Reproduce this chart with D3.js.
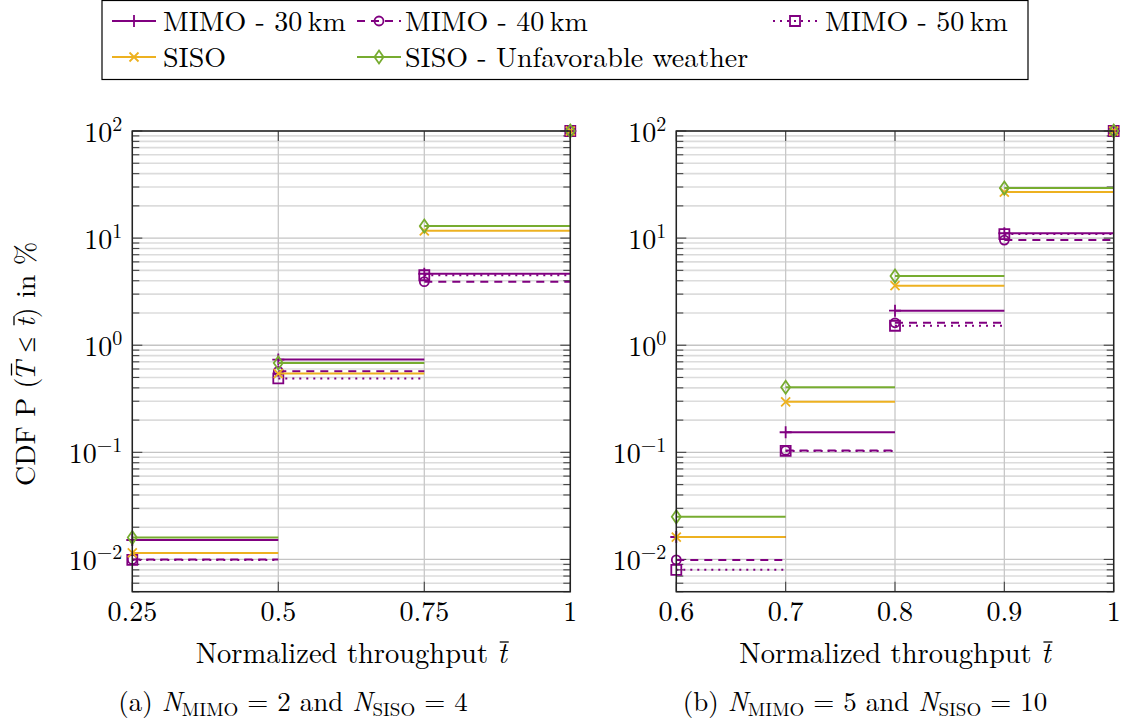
<!DOCTYPE html>
<html>
<head>
<meta charset="utf-8">
<script src="https://cdn.jsdelivr.net/npm/d3@7"></script>
<style>
  html, body { margin: 0; padding: 0; background: #fff; }
  svg { display: block; }
</style>
</head>
<body>
<svg id="fig" width="1123" height="723"></svg>
<script>
// ---- Data -----------------------------------------------------------------
const seriesNames = ["MIMO - 30\u2009km", "MIMO - 40\u2009km", "MIMO - 50\u2009km", "SISO", "SISO - Unfavorable weather"];

// Panel (a): N_MIMO = 2, N_SISO = 4
const xA = [0.25, 0.5, 0.75, 1];
const mimo30A = [0.0152, 0.735, 4.65, 100];
const mimo40A = [0.0100, 0.571, 3.92, 100];
const mimo50A = [0.0099, 0.490, 4.50, 100];
const sisoA = [0.0115, 0.544, 11.7, 100];
const sisoBadA = [0.0160, 0.684, 12.95, 100];

// Panel (b): N_MIMO = 5, N_SISO = 10
const xB = [0.6, 0.7, 0.8, 0.9, 1];
const mimo30B = [0.0162, 0.154, 2.10, 11.1, 100];
const mimo40B = [0.0099, 0.104, 1.62, 9.58, 100];
const mimo50B = [0.0080, 0.103, 1.52, 10.9, 100];
const sisoB = [0.0162, 0.296, 3.60, 26.9, 100];
const sisoBadB = [0.0250, 0.405, 4.42, 29.3, 100];

const xTicksA = [0.25, 0.5, 0.75, 1];
const xTickLabelsA = ["0.25", "0.5", "0.75", "1"];
const xTicksB = [0.6, 0.7, 0.8, 0.9, 1];
const xTickLabelsB = ["0.6", "0.7", "0.8", "0.9", "1"];
const yDecades = [-2, -1, 0, 1, 2];
const yDomain = [0.005, 100];

// ---- Styles ---------------------------------------------------------------
const FONT = "'Latin Modern Roman', 'CMU Serif', 'Liberation Serif', serif";
const PURPLE = "#800080", YELLOW = "#EDB120", GREEN = "#77AC30";
const styles = [
  { color: PURPLE, dash: null,  marker: "plus" },
  { color: PURPLE, dash: "8,6", marker: "circle" },
  { color: PURPLE, dash: "2,5", marker: "square" },
  { color: YELLOW, dash: null,  marker: "cross" },
  { color: GREEN,  dash: null,  marker: "diamond" }
];

function markerPath(type) {
  switch (type) {
    case "plus": return "M-6,0H6M0,-6V6";
    case "cross": return "M-4.5,-4.5L4.5,4.5M-4.5,4.5L4.5,-4.5";
    case "circle": return "M4.5,0A4.5,4.5 0 1,1 -4.5,0A4.5,4.5 0 1,1 4.5,0Z";
    case "square": return "M-5,-5H5V5H-5Z";
    case "diamond": return "M0,-6.5L4.5,0L0,6.5L-4.5,0Z";
  }
}

function addText(parent, size) {
  return parent.append("text").style("font-family", FONT).attr("font-size", size).attr("fill", "#000");
}

// bar accent over an (italic) character of a text element
function addBar(parent, textSel, index, rise, halfWidth) {
  const node = textSel.node();
  const ext = node.getExtentOfChar(index);
  const base = node.getStartPositionOfChar(index).y;
  const cx = ext.x + ext.width / 2 + 2;
  parent.append("line")
    .attr("x1", cx - halfWidth).attr("x2", cx + halfWidth)
    .attr("y1", base - rise).attr("y2", base - rise)
    .attr("stroke", "#000").attr("stroke-width", 1.3);
}

const svg = d3.select("#fig");
svg.append("rect").attr("width", 1123).attr("height", 723).attr("fill", "#fff");

// ---- Panel drawing ----------------------------------------------------------
function drawPanel(opt) {
  const x = d3.scaleLinear().domain([opt.xs[0], opt.xs[opt.xs.length - 1]]).range([opt.left, opt.right]);
  const y = d3.scaleLog().domain(yDomain).range([591.7, 131]);
  const g = svg.append("g");
  const [x0, x1] = x.range();
  const [yb, yt] = y.range();

  // horizontal grid (minor then major)
  const minorVals = [], majorVals = [];
  for (let d = -3; d <= 2; d++) {
    for (let k = 1; k <= 9; k++) {
      const v = k * Math.pow(10, d);
      if (v < yDomain[0] - 1e-12 || v > yDomain[1] + 1e-9) continue;
      (k === 1 ? majorVals : minorVals).push(v);
    }
  }
  g.selectAll(".ygm").data(minorVals).join("line")
    .attr("x1", x0).attr("x2", x1).attr("y1", d => y(d)).attr("y2", d => y(d))
    .attr("stroke", "#dcdcdc").attr("stroke-width", 1.6);
  g.selectAll(".ygM").data(majorVals).join("line")
    .attr("x1", x0).attr("x2", x1).attr("y1", d => y(d)).attr("y2", d => y(d))
    .attr("stroke", "#c4c4c4").attr("stroke-width", 1.3);
  // vertical grid
  g.selectAll(".xg").data(opt.ticks).join("line")
    .attr("x1", d => x(d)).attr("x2", d => x(d)).attr("y1", yb).attr("y2", yt)
    .attr("stroke", "#c8c8c8").attr("stroke-width", 1.3);

  // ticks (inward, on all four sides)
  const tk = g.append("g").attr("stroke", "#444").attr("stroke-width", 1.1);
  minorVals.forEach(v => {
    tk.append("line").attr("x1", x0).attr("x2", x0 + 7).attr("y1", y(v)).attr("y2", y(v));
    tk.append("line").attr("x1", x1).attr("x2", x1 - 7).attr("y1", y(v)).attr("y2", y(v));
  });
  majorVals.forEach(v => {
    tk.append("line").attr("x1", x0).attr("x2", x0 + 10).attr("y1", y(v)).attr("y2", y(v));
    tk.append("line").attr("x1", x1).attr("x2", x1 - 10).attr("y1", y(v)).attr("y2", y(v));
  });
  opt.ticks.forEach(v => {
    tk.append("line").attr("x1", x(v)).attr("x2", x(v)).attr("y1", yb).attr("y2", yb - 10);
    tk.append("line").attr("x1", x(v)).attr("x2", x(v)).attr("y1", yt).attr("y2", yt + 10);
  });

  // series: horizontal steps with markers at the jump points
  opt.series.forEach((vals, si) => {
    const st = styles[si];
    const sg = g.append("g");
    const segs = vals.slice(0, -1).map((v, i) => ({ xa: opt.xs[i], xb: opt.xs[i + 1], v }));
    sg.selectAll("line").data(segs).join("line")
      .attr("x1", d => x(d.xa)).attr("x2", d => x(d.xb))
      .attr("y1", d => y(d.v)).attr("y2", d => y(d.v))
      .attr("stroke", st.color).attr("stroke-width", 2)
      .attr("stroke-dasharray", st.dash);
    sg.selectAll("path").data(vals).join("path")
      .attr("d", markerPath(st.marker))
      .attr("transform", (d, i) => `translate(${x(opt.xs[i])},${y(d)})`)
      .attr("fill", "none").attr("stroke", st.color).attr("stroke-width", 1.8);
  });

  // frame
  g.append("rect").attr("x", x0).attr("y", yt).attr("width", x1 - x0).attr("height", yb - yt)
    .attr("fill", "none").attr("stroke", "#222").attr("stroke-width", 1.5);

  // x tick labels
  opt.ticks.forEach((v, i) => {
    addText(g, 28).attr("x", x(v)).attr("y", 621).attr("text-anchor", "middle").text(opt.tickLabels[i]);
  });

  // y tick labels 10^k
  yDecades.forEach(k => {
    const t = addText(g, 28).attr("x", opt.left - 10).attr("y", y(Math.pow(10, k)) + 11)
      .attr("text-anchor", "end");
    t.append("tspan").text("10");
    t.append("tspan").attr("dy", -11).attr("font-size", 20).text(k < 0 ? "\u2212" + (-k) : String(k));
  });

  // x axis label
  const xl = addText(g, 28.5).attr("x", (x0 + x1) / 2).attr("y", 663).attr("text-anchor", "middle");
  xl.append("tspan").text("Normalized throughput ");
  xl.append("tspan").attr("font-style", "italic").text("t");
  addBar(g, xl, 22, 21, 4.5);

  // caption
  const cp = addText(g, 27).attr("x", opt.capX).attr("y", 711).attr("text-anchor", "middle");
  cp.append("tspan").text(opt.capTag + " ");
  cp.append("tspan").attr("font-style", "italic").text("N");
  cp.append("tspan").attr("dy", 5).attr("font-size", 19).text("MIMO");
  cp.append("tspan").attr("dy", -5).text(" = " + opt.nMimo + " and ");
  cp.append("tspan").attr("font-style", "italic").text("N");
  cp.append("tspan").attr("dy", 5).attr("font-size", 19).text("SISO");
  cp.append("tspan").attr("dy", -5).text(" = " + opt.nSiso);
}

drawPanel({
  xs: xA, left: 132.3, right: 570.3, ticks: xTicksA, tickLabels: xTickLabelsA,
  series: [mimo30A, mimo40A, mimo50A, sisoA, sisoBadA],
  capX: 293, capTag: "(a)", nMimo: 2, nSiso: 4
});
drawPanel({
  xs: xB, left: 676.3, right: 1113.7, ticks: xTicksB, tickLabels: xTickLabelsB,
  series: [mimo30B, mimo40B, mimo50B, sisoB, sisoBadB],
  capX: 865, capTag: "(b)", nMimo: 5, nSiso: 10
});

// y axis label (left panel)
const ylg = svg.append("g").attr("transform", "translate(35,364) rotate(-90)");
const yl = addText(ylg, 28).attr("x", 0).attr("y", 0).attr("text-anchor", "middle");
yl.append("tspan").text("CDF P (");
yl.append("tspan").attr("dx", -4).attr("font-style", "italic").text("T");
yl.append("tspan").text(" \u2264 ");
yl.append("tspan").attr("font-style", "italic").text("t");
yl.append("tspan").text(") in %");
addBar(ylg, yl, 7, 23.5, 6);
addBar(ylg, yl, 11, 21, 4.5);

// ---- Legend -----------------------------------------------------------------
const lg = svg.append("g");
lg.append("rect").attr("x", 102).attr("y", 0.5).attr("width", 926).attr("height", 79)
  .attr("fill", "#fff").attr("stroke", "#000").attr("stroke-width", 1.2);
const legendPos = [
  { sx: 112, tx: 163, cy: 21 },
  { sx: 357, tx: 405, cy: 21 },
  { sx: 773, tx: 825, cy: 21 },
  { sx: 112, tx: 163, cy: 57 },
  { sx: 357, tx: 405, cy: 57 }
];
seriesNames.forEach((name, i) => {
  const st = styles[i], p = legendPos[i];
  lg.append("line").attr("x1", p.sx).attr("x2", p.sx + 44).attr("y1", p.cy).attr("y2", p.cy)
    .attr("stroke", st.color).attr("stroke-width", 2).attr("stroke-dasharray", st.dash);
  lg.append("path").attr("d", markerPath(st.marker))
    .attr("transform", `translate(${p.sx + 22},${p.cy})`)
    .attr("fill", "none").attr("stroke", st.color).attr("stroke-width", 1.8);
  addText(lg, 28).attr("x", p.tx).attr("y", p.cy + 10).text(name);
});
</script>
</body>
</html>
